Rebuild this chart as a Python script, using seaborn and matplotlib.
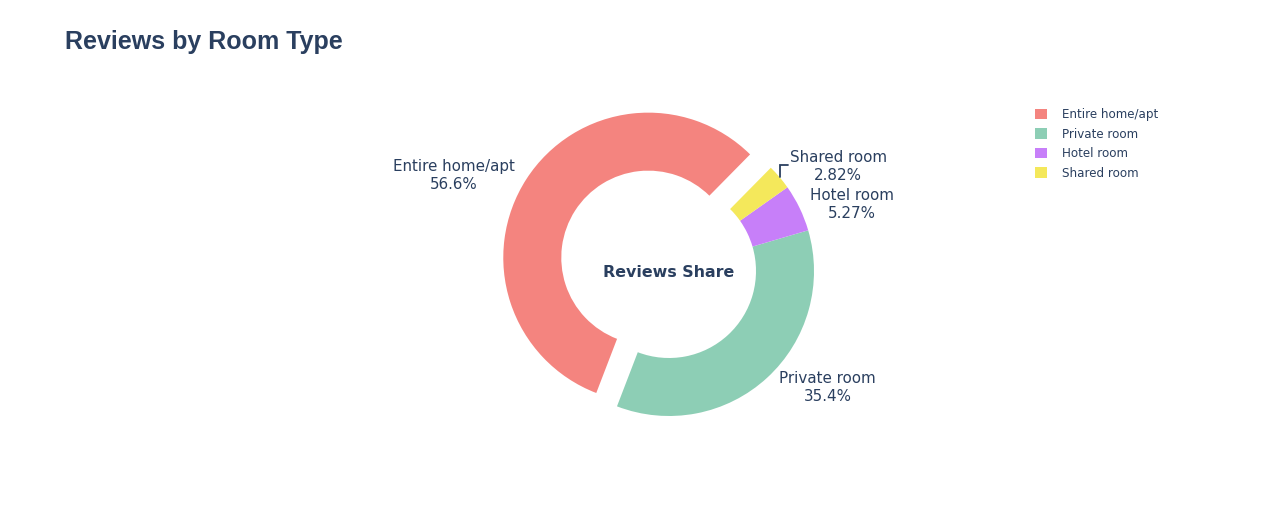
import numpy as np
import pandas as pd
import matplotlib
matplotlib.use("Agg")
import matplotlib.pyplot as plt
import seaborn as sns

room_types = ["Entire home/apt", "Private room", "Hotel room", "Shared room"]
review_share = [56.6, 35.4, 5.27, 2.82]
pct_labels = ["56.6%", "35.4%", "5.27%", "2.82%"]
slice_colors = ["#F4847F", "#8DCEB5", "#C77FF9", "#F4E85B"]
pulled = [0.17, 0, 0, 0]

df = pd.DataFrame({"room_type": room_types, "share": review_share})

sns.set_theme(style="white")
plt.rcParams["font.family"] = ["DejaVu Sans"]
palette = sns.color_palette(slice_colors)
txt_col = "#2a3f5f"

W, H = 1283, 525
cx, cy, R = 669, 271, 145  # pie centre / radius in pixels
fig = plt.figure(figsize=(W / 100, H / 100), dpi=100)
ax = fig.add_axes([0, 0, 1, 1])

wedges, _ = ax.pie(df["share"], colors=palette, startangle=45.4, counterclock=True,
                   explode=pulled, radius=1, wedgeprops=dict(width=0.4, linewidth=0))
ax.set_xlim(-cx / R, (W - cx) / R)
ax.set_ylim(-(H - cy) / R, cy / R)
ax.set_axis_off()

# outside labels: offset in pixels from each wedge's outer mid point
offsets = [(-12, 4, "right"), (12, -10, "left"), (10, 3, "left"), (10, 11, "left")]
for w, name, pct, (ox, oy, ha) in zip(wedges, room_types, pct_labels, offsets):
    mid = np.deg2rad((w.theta1 + w.theta2) / 2)
    px = w.center[0] + w.r * np.cos(mid)
    py = w.center[1] + w.r * np.sin(mid)
    ax.annotate(f"{name}\n{pct}", xy=(px, py), xytext=(ox, oy), textcoords="offset pixels",
                ha=ha, va="center", multialignment="center", fontsize=10.9, color=txt_col,
                linespacing=1.25)
    if name == "Shared room":
        # leader line like the reference
        ax.plot([px, px, px + 8 / R], [py, py + 12 / R, py + 12 / R], color=txt_col, lw=1.3,
                solid_joinstyle="miter")

ax.text(0, -0.01, "Reviews Share", ha="center", va="center", fontsize=11.4, fontweight="bold",
        color=txt_col)

fig.text(65 / W, 1 - 42 / H, "Reviews by Room Type", ha="left", va="center", fontsize=18,
         fontweight="bold", color=txt_col, family=["Liberation Sans", "DejaVu Sans"])

leg = fig.legend(wedges, room_types, loc="upper left", bbox_to_anchor=(1035 / W, 1 - 108 / H),
                 frameon=False, fontsize=8.6, handlelength=1.0, handleheight=1.0,
                 handletextpad=1.25, labelspacing=0.55, borderpad=0, borderaxespad=0)
for t in leg.get_texts():
    t.set_color(txt_col)

fig.savefig("out.png", dpi=100, facecolor="white")
